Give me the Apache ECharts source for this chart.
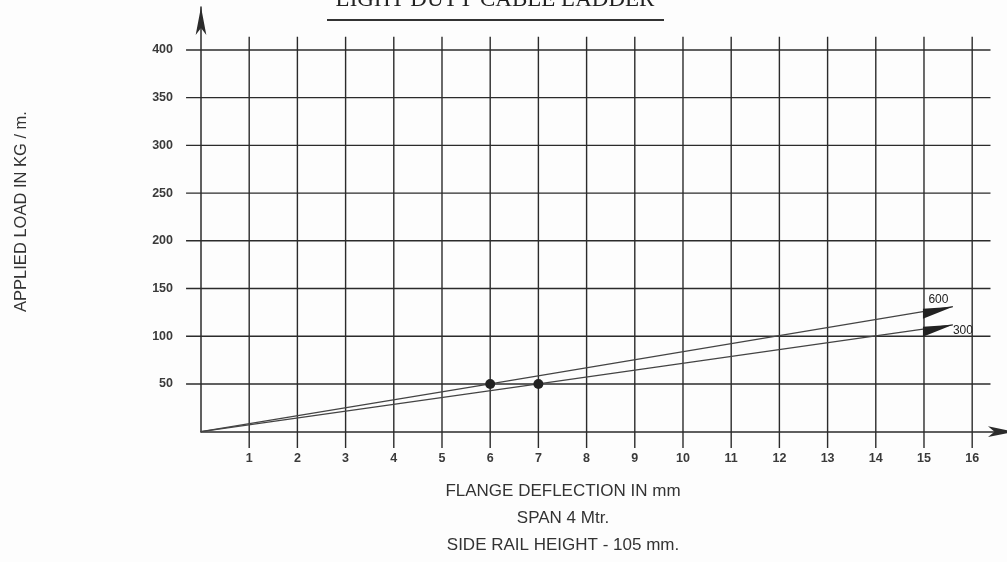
<!DOCTYPE html>
<html>
<head>
<meta charset="utf-8">
<title>Light Duty Cable Ladder</title>
<script src="https://cdn.jsdelivr.net/npm/echarts@6/dist/echarts.min.js"></script>
<style>
html, body { margin: 0; padding: 0; background: #fdfdfd; }
#chart { width: 1007px; height: 562px; }
</style>
</head>
<body>
<div id="chart"></div>
<script>
// tick values of the two axes
var xTicks = [1, 2, 3, 4, 5, 6, 7, 8, 9, 10, 11, 12, 13, 14, 15, 16];
var yTicks = [50, 100, 150, 200, 250, 300, 350, 400];

// deflection (mm) / load (kg/m): origin, marked point, end of arrow
var deflection600 = [0, 6, 15.6];
var load600 = [0, 50, 131];
var deflection300 = [0, 7, 15.6];
var load300 = [0, 50, 112];

var arrowPath = 'path://M0,2 L30,0 L0,12 Z';
var ink = '#2b2b2b';

function buildLine(xs, ys) {
    return xs.map(function(x, i) {
        var item = { value: [x, ys[i]] };
        if (i === 1) {
            item.symbol = 'circle';
            item.symbolSize = 10;
        } else if (i === xs.length - 1) {
            item.symbol = arrowPath;
            item.symbolSize = [30, 12];
            item.symbolOffset = [-15, 6];
        }
        return item;
    });
}

var ec = echarts.init(document.getElementById('chart'));

var tickLabel = {
    fontSize: 12.5,
    fontWeight: 'bold',
    fontFamily: 'Liberation Sans',
    color: '#3a3a3a'
};

var option = {
    backgroundColor: '#fdfdfd',
    animation: false,
    grid: {
        left: 201,
        right: 0,
        top: 7,
        bottom: 130.3
    },
    xAxis: {
        type: 'value',
        min: 0,
        max: 16.66,
        interval: 1,
        axisLine: {
            symbol: ['none', 'arrow'],
            symbolSize: [8, 26],
            symbolOffset: [0, 10],
            lineStyle: { color: ink, width: 1.5 }
        },
        axisTick: { show: false },
        splitLine: { show: false },
        axisLabel: Object.assign({
            margin: 20,
            formatter: function(v) {
                return xTicks.indexOf(v) >= 0 ? String(v) : '';
            }
        }, tickLabel)
    },
    yAxis: {
        type: 'value',
        min: 0,
        max: 445,
        interval: 50,
        axisLine: {
            show: true,
            symbol: ['none', 'arrow'],
            symbolSize: [8, 28],
            lineStyle: { color: ink, width: 1.5 }
        },
        axisTick: { show: false },
        splitLine: { show: false },
        axisLabel: Object.assign({
            margin: 28,
            formatter: function(v) {
                return yTicks.indexOf(v) >= 0 ? String(v) : '';
            }
        }, tickLabel)
    },
    graphic: [{
        type: 'text',
        x: 495,
        y: 0,
        style: {
            text: 'LIGHT DUTY CABLE LADDER',
            font: '23px "Liberation Serif"',
            fill: '#222',
            align: 'center',
            verticalAlign: 'middle'
        }
    }, {
        type: 'line',
        shape: { x1: 327, y1: 20, x2: 664, y2: 20 },
        style: { stroke: '#333', lineWidth: 2 }
    }, {
        type: 'text',
        x: 21.7,
        y: 211.5,
        rotation: Math.PI / 2,
        style: {
            text: 'APPLIED LOAD IN KG / m.',
            font: '16.5px "Liberation Sans"',
            fill: '#333',
            align: 'center',
            verticalAlign: 'middle'
        }
    }, {
        type: 'text',
        x: 563,
        y: 491.5,
        style: {
            text: 'FLANGE DEFLECTION IN mm',
            font: '17px "Liberation Sans"',
            fill: '#333',
            align: 'center',
            verticalAlign: 'middle'
        }
    }, {
        type: 'text',
        x: 563,
        y: 518.5,
        style: {
            text: 'SPAN 4 Mtr.',
            font: '17px "Liberation Sans"',
            fill: '#333',
            align: 'center',
            verticalAlign: 'middle'
        }
    }, {
        type: 'text',
        x: 563,
        y: 545,
        style: {
            text: 'SIDE RAIL HEIGHT - 105 mm.',
            font: '17px "Liberation Sans"',
            fill: '#333',
            align: 'center',
            verticalAlign: 'middle'
        }
    }],
    series: [{
        // vertical grid lines, running a bit past both ends
        type: 'custom',
        silent: true,
        clip: false,
        z: 1,
        data: xTicks.map(function(v) { return [v, 0]; }),
        renderItem: function(params, api) {
            var a = api.coord([api.value(0), -17]);
            var b = api.coord([api.value(0), 413.7]);
            return {
                type: 'line',
                shape: { x1: a[0], y1: a[1], x2: b[0], y2: b[1] },
                style: { stroke: ink, lineWidth: 1.4 }
            };
        }
    }, {
        // horizontal grid lines
        type: 'custom',
        silent: true,
        clip: false,
        z: 1,
        data: yTicks.map(function(v) { return [0, v]; }),
        renderItem: function(params, api) {
            var a = api.coord([-0.31, api.value(1)]);
            var b = api.coord([16.38, api.value(1)]);
            return {
                type: 'line',
                shape: { x1: a[0], y1: a[1], x2: b[0], y2: b[1] },
                style: { stroke: ink, lineWidth: 1.4 }
            };
        }
    }, {
        name: '600',
        type: 'line',
        z: 3,
        symbol: 'none',
        showSymbol: true,
        showAllSymbol: true,
        itemStyle: { color: '#222' },
        lineStyle: { color: '#444', width: 1.3 },
        endLabel: {
            show: true,
            formatter: '600',
            distance: 0,
            align: 'center',
            verticalAlign: 'middle',
            offset: [-14.5, -7],
            fontSize: 12,
            fontFamily: 'Liberation Sans',
            color: '#222'
        },
        data: buildLine(deflection600, load600)
    }, {
        name: '300',
        type: 'line',
        z: 3,
        symbol: 'none',
        showSymbol: true,
        showAllSymbol: true,
        itemStyle: { color: '#222' },
        lineStyle: { color: '#444', width: 1.3 },
        endLabel: {
            show: true,
            formatter: '300',
            distance: 0,
            align: 'center',
            verticalAlign: 'middle',
            offset: [10, 5.5],
            fontSize: 12,
            fontFamily: 'Liberation Sans',
            color: '#222'
        },
        data: buildLine(deflection300, load300)
    }]
};

ec.setOption(option);
</script>
</body>
</html>
